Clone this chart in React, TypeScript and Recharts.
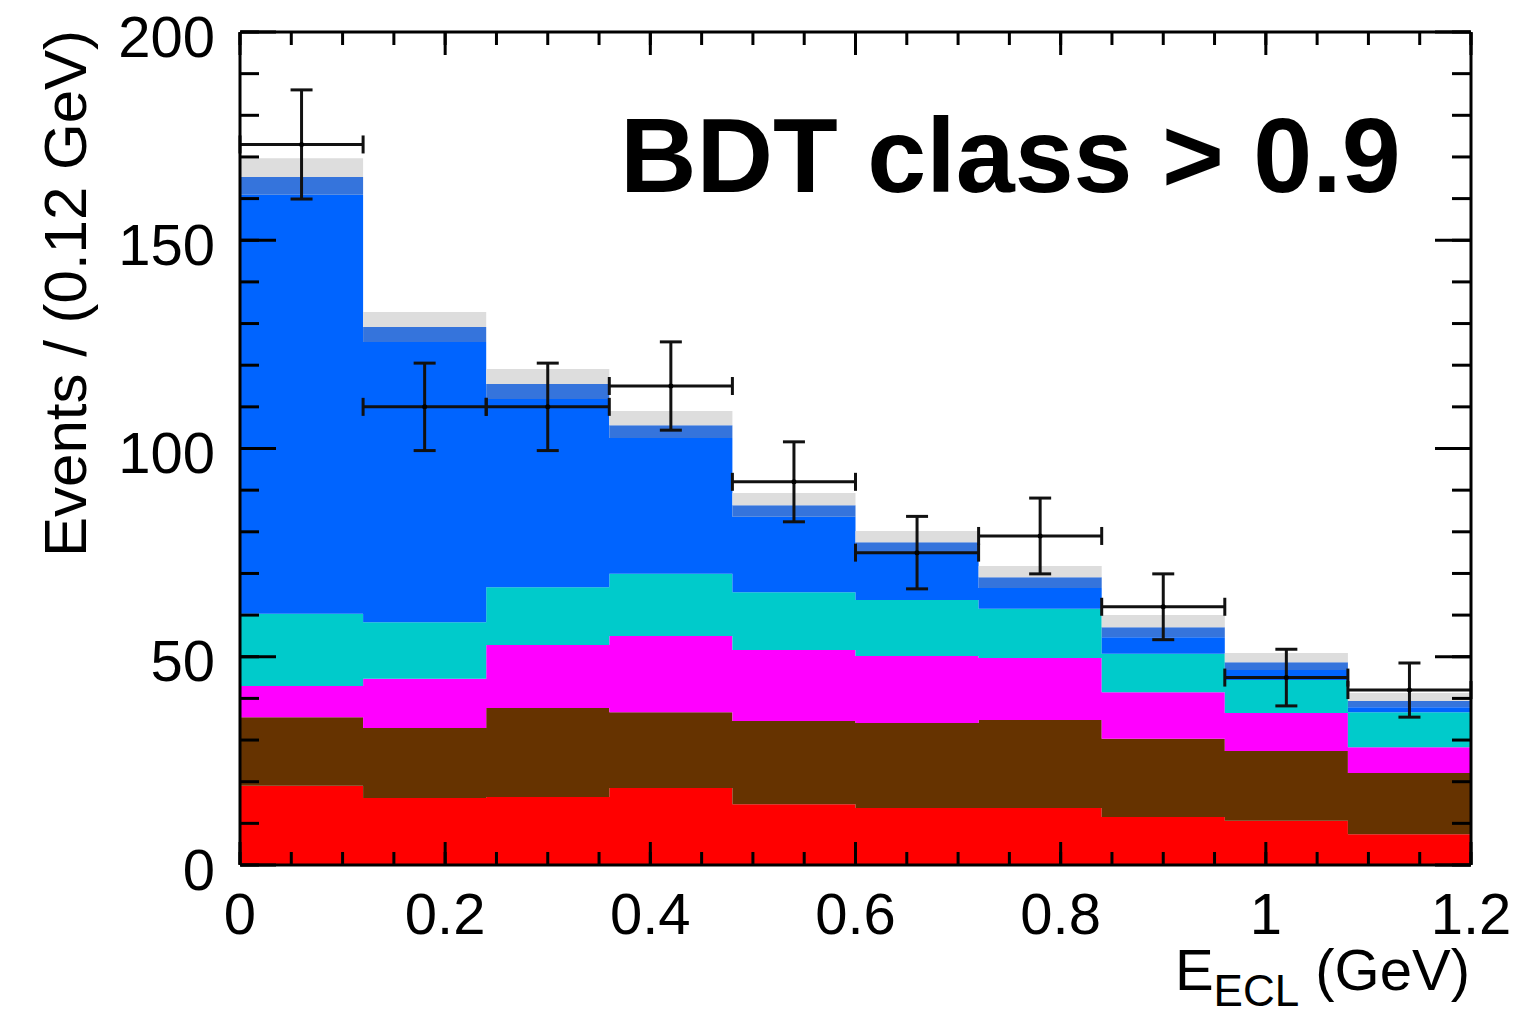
import React from 'react';
import { ComposedChart, Area, Scatter, ErrorBar, XAxis, YAxis } from 'recharts';

// Bin edges of the E_ECL histogram (GeV)
const binEdges = [0, 0.12, 0.24, 0.36, 0.48, 0.6, 0.72, 0.84, 0.96, 1.08, 1.2];

// Stacked background components, per bin (events / 0.12 GeV), bottom to top
const redBkg = [19.0, 16.1, 16.3, 18.5, 14.6, 13.7, 13.7, 11.5, 10.6, 7.4];
const brownBkg = [16.5, 16.8, 21.4, 18.2, 20.0, 20.4, 21.1, 18.8, 16.8, 14.7];
const magentaBkg = [7.5, 11.8, 15.1, 18.3, 17.0, 16.1, 14.9, 11.2, 9.1, 6.2];
const cyanBkg = [17.3, 13.6, 13.9, 14.9, 13.9, 13.4, 11.8, 9.2, 7.9, 8.4];
const blueBkg = [100.6, 67.3, 45.2, 32.6, 18.1, 11.3, 5.0, 4.0, 2.4, 1.2];
const bandBkg = [4.3, 3.6, 3.6, 3.1, 2.8, 2.6, 2.6, 2.4, 1.9, 1.5];
const greyBkg = [4.5, 3.6, 3.6, 3.4, 2.9, 2.7, 2.7, 2.9, 2.2, 1.9];

// Data points
const binCenters = [0.06, 0.18, 0.3, 0.42, 0.54, 0.66, 0.78, 0.9, 1.02, 1.14];
const dataCounts = [173, 110, 110, 115, 92, 75, 79, 62, 45, 42];
const dataYErr = [13.1, 10.5, 10.5, 10.6, 9.6, 8.7, 9.1, 7.9, 6.8, 6.5];
const dataXErr = [0.06, 0.06, 0.06, 0.06, 0.06, 0.06, 0.06, 0.06, 0.06, 0.06];

// Axis ticks
const xMajorTicks = [0, 0.2, 0.4, 0.6, 0.8, 1.0, 1.2];
const xTickLabels = ['0', '0.2', '0.4', '0.6', '0.8', '1', '1.2'];
const xMinorTicks = [0, 0.05, 0.1, 0.15, 0.2, 0.25, 0.3, 0.35, 0.4, 0.45, 0.5, 0.55, 0.6, 0.65, 0.7, 0.75, 0.8, 0.85, 0.9, 0.95, 1.0, 1.05, 1.1, 1.15, 1.2];
const yMajorTicks = [0, 50, 100, 150, 200];
const yMinorTicks = [0, 10, 20, 30, 40, 50, 60, 70, 80, 90, 100, 110, 120, 130, 140, 150, 160, 170, 180, 190, 200];

const histRows = binEdges.map((x, i) => {
  const k = Math.min(i, redBkg.length - 1);
  return {
    x,
    red: redBkg[k],
    brown: brownBkg[k],
    magenta: magentaBkg[k],
    cyan: cyanBkg[k],
    blue: blueBkg[k],
    band: bandBkg[k],
    grey: greyBkg[k],
  };
});

const dataRows = binCenters.map((x, i) => ({ x, y: dataCounts[i], ex: dataXErr[i], ey: dataYErr[i] }));

const W = 1513;
const H = 1007;
const FONT = 'Liberation Sans, Arial, Helvetica, sans-serif';
const tickStyle = { fontSize: 58, fill: '#000', fontFamily: FONT };
const yTickStyle = { ...tickStyle, dy: 4 };
const frame = { stroke: '#000', strokeWidth: 3 };
const noLabel = () => <g />;

const layers = [
  { key: 'red', color: '#ff0000' },
  { key: 'brown', color: '#663300' },
  { key: 'magenta', color: '#ff00ff' },
  { key: 'cyan', color: '#00cbcb' },
  { key: 'blue', color: '#0064ff' },
  { key: 'band', color: '#3574dc' },
  { key: 'grey', color: '#dddddd' },
];

export default function App() {
  return (
    <div style={{ position: 'relative', width: W, height: H }}>
      <style>{`.recharts-surface{overflow:visible}`}</style>
      <ComposedChart width={W} height={H} data={histRows} margin={{ top: 24, right: 50, bottom: 80, left: 132 }}>
        {layers.map((l) => (
          <Area
            key={l.key}
            xAxisId="x"
            yAxisId="y"
            dataKey={l.key}
            stackId="bkg"
            type="stepAfter"
            stroke="none"
            fill={l.color}
            fillOpacity={1}
            dot={false}
            activeDot={false}
            isAnimationActive={false}
          />
        ))}

        <XAxis
          xAxisId="x"
          dataKey="x"
          type="number"
          domain={[0, 1.2]}
          allowDataOverflow
          ticks={xMajorTicks}
          interval={0}
          tickFormatter={(v: number, i: number) => xTickLabels[i] ?? String(v)}
          tick={tickStyle}
          tickLine={false}
          tickSize={0}
          tickMargin={28}
          axisLine={frame}
          height={70}
        />
        <XAxis xAxisId="xMajB" type="number" dataKey="x" domain={[0, 1.2]} allowDataOverflow ticks={xMajorTicks} interval={0} mirror orientation="bottom" height={1} tick={noLabel} tickSize={23} tickLine={frame} axisLine={false} />
        <XAxis xAxisId="xMinB" type="number" dataKey="x" domain={[0, 1.2]} allowDataOverflow ticks={xMinorTicks} interval={0} mirror orientation="bottom" height={1} tick={noLabel} tickSize={12} tickLine={frame} axisLine={false} />
        <XAxis xAxisId="xMajT" type="number" dataKey="x" domain={[0, 1.2]} allowDataOverflow ticks={xMajorTicks} interval={0} mirror orientation="top" height={1} tick={noLabel} tickSize={23} tickLine={frame} axisLine={frame} />
        <XAxis xAxisId="xMinT" type="number" dataKey="x" domain={[0, 1.2]} allowDataOverflow ticks={xMinorTicks} interval={0} mirror orientation="top" height={1} tick={noLabel} tickSize={12} tickLine={frame} axisLine={false} />
        <YAxis
          yAxisId="y"
          type="number"
          domain={[0, 200]}
          allowDataOverflow
          ticks={yMajorTicks}
          interval={0}
          tick={yTickStyle}
          tickLine={false}
          tickSize={0}
          tickMargin={25}
          axisLine={frame}
          width={100}
        />
        <YAxis yAxisId="yMajL" type="number" domain={[0, 200]} allowDataOverflow ticks={yMajorTicks} interval={0} mirror orientation="left" width={1} tick={noLabel} tickSize={36} tickLine={frame} axisLine={false} />
        <YAxis yAxisId="yMinL" type="number" domain={[0, 200]} allowDataOverflow ticks={yMinorTicks} interval={0} mirror orientation="left" width={1} tick={noLabel} tickSize={18} tickLine={frame} axisLine={false} />
        <YAxis yAxisId="yMajR" type="number" domain={[0, 200]} allowDataOverflow ticks={yMajorTicks} interval={0} mirror orientation="right" width={1} tick={noLabel} tickSize={36} tickLine={frame} axisLine={frame} />
        <YAxis yAxisId="yMinR" type="number" domain={[0, 200]} allowDataOverflow ticks={yMinorTicks} interval={0} mirror orientation="right" width={1} tick={noLabel} tickSize={18} tickLine={frame} axisLine={false} />

        <Scatter
          xAxisId="x"
          yAxisId="y"
          data={dataRows}
          dataKey="y"
          isAnimationActive={false}
          shape={(p: any) => <circle cx={p.cx} cy={p.cy} r={2.5} fill="#000" />}
        >
          <ErrorBar dataKey="ey" direction="y" width={11} stroke="#111" strokeWidth={3} isAnimationActive={false} />
          <ErrorBar dataKey="ex" direction="x" width={9} stroke="#111" strokeWidth={3} isAnimationActive={false} />
        </Scatter>
      </ComposedChart>

      <svg width={W} height={H + 8} style={{ position: 'absolute', left: 0, top: 0, pointerEvents: 'none', overflow: 'visible' }}>
        <text x={612} y={184} fontFamily={FONT} fontWeight="bold" fontSize={106} fill="#000">
          BDT class &gt; 0.9
        </text>
        <text
          x={78}
          y={22}
          fontFamily={FONT}
          fontSize={60}
          fill="#000"
          textAnchor="end"
          transform="rotate(-90, 78, 22)"
        >
          Events / (0.12 GeV)
        </text>
        <text x={1462} y={982} fontFamily={FONT} fontSize={58} fill="#000" textAnchor="end">
          <tspan>E</tspan>
          <tspan dy={16} fontSize={44}>ECL</tspan>
          <tspan dy={-16}> (GeV)</tspan>
        </text>
      </svg>
    </div>
  );
}
